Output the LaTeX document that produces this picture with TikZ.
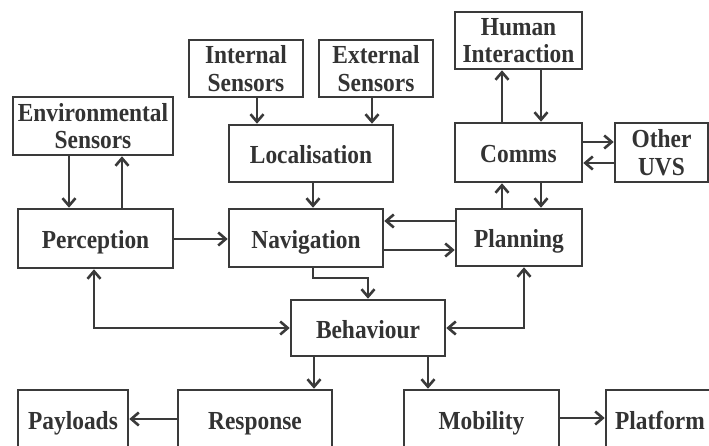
\documentclass[tikz,border=0pt]{standalone}
\usepackage{fontspec}
\setmainfont{Liberation Serif}[FakeStretch=0.9]
\usetikzlibrary{arrows.meta}
\definecolor{ink}{HTML}{3A3A3A}
\definecolor{txt}{HTML}{333333}
\tikzset{
  box/.style={draw=ink, line width=2.6pt, inner sep=0pt, align=center,
    text=txt, font=\bfseries\fontsize{26}{27.5}\selectfont},
  one/.style={text height=26pt, text depth=5pt},
  link/.style={draw=ink, line width=2.6pt},
  arr/.style={link, -{Straight Barb[length=7.5pt,width=13pt]}},
  darr/.style={link, {Straight Barb[length=7.5pt,width=13pt]}-{Straight Barb[length=7.5pt,width=13pt]}}
}
\begin{document}
\begin{tikzpicture}[x=1pt,y=-1pt]
\useasboundingbox (0,0) rectangle (709,446);
\fill[white] (0,0) rectangle (709,446);
\clip (0,0) rectangle (709,446);
% boxes
\node[box, minimum width=160pt, minimum height=58pt] (env) at (93,126) {Environmental\\Sensors};
\node[box, minimum width=114pt, minimum height=57pt] (int) at (246,68.5) {Internal\\Sensors};
\node[box, minimum width=114pt, minimum height=57pt] (ext) at (376,68.5) {External\\Sensors};
\node[box, minimum width=127pt, minimum height=57pt] (hum) at (518.5,40.5) {Human\\Interaction};
\node[box, one, minimum width=164pt, minimum height=57pt] (loc) at (311,153.5) {Localisation};
\node[box, one, minimum width=127pt, minimum height=59pt] (comms) at (518.5,152.5) {Comms};
\node[box, minimum width=93pt, minimum height=59pt] (other) at (661.5,152.5) {Other\\UVS};
\node[box, one, minimum width=155pt, minimum height=59pt] (perc) at (95.5,238.5) {Perception};
\node[box, one, minimum width=154pt, minimum height=58pt] (nav) at (306,238) {Navigation};
\node[box, one, minimum width=126pt, minimum height=57pt] (plan) at (519,237.5) {Planning};
\node[box, one, minimum width=154pt, minimum height=56pt] (beh) at (368,328) {Behaviour};
\node[box, one, minimum width=110pt, minimum height=58pt] (pay) at (73,419) {Payloads};
\node[box, one, minimum width=154pt, minimum height=58pt] (resp) at (255,419) {Response};
\node[box, one, minimum width=155pt, minimum height=58pt] (mob) at (481.5,419) {Mobility};
\node[box, one, minimum width=108pt, minimum height=58pt] (plat) at (660,419) {Platform};
% connectors
\draw[arr] (env.south -| 69,0) -- (perc.north -| 69,0);
\draw[arr] (perc.north -| 122,0) -- (env.south -| 122,0);
\draw[arr] (int.south -| 257,0) -- (loc.north -| 257,0);
\draw[arr] (ext.south -| 372,0) -- (loc.north -| 372,0);
\draw[arr] (loc.south -| 313,0) -- (nav.north -| 313,0);
\draw[arr] (comms.north -| 502,0) -- (hum.south -| 502,0);
\draw[arr] (hum.south -| 541,0) -- (comms.north -| 541,0);
\draw[arr] (comms.east |- 0,142) -- (other.west |- 0,142);
\draw[arr] (other.west |- 0,163) -- (comms.east |- 0,163);
\draw[arr] (plan.north -| 502,0) -- (comms.south -| 502,0);
\draw[arr] (comms.south -| 541,0) -- (plan.north -| 541,0);
\draw[arr] (perc.east |- 0,239) -- (nav.west |- 0,239);
\draw[arr] (plan.west |- 0,221) -- (nav.east |- 0,221);
\draw[arr] (nav.east |- 0,250) -- (plan.west |- 0,250);
\coordinate (nb1) at (313,278);
\coordinate (nb2) at (368,278);
\draw[arr] (nav.south -| nb1) -- (nb1) -- (nb2) -- (beh.north -| nb2);
\coordinate (pb) at (94,328);
\draw[darr] (perc.south -| pb) -- (pb) -- (beh.west |- pb);
\coordinate (lb) at (524,328);
\draw[darr] (plan.south -| lb) -- (lb) -- (beh.east |- lb);
\draw[arr] (beh.south -| 314,0) -- (resp.north -| 314,0);
\draw[arr] (beh.south -| 428,0) -- (mob.north -| 428,0);
\draw[arr] (resp.west |- 0,419) -- (pay.east |- 0,419);
\draw[arr] (mob.east |- 0,418) -- (plat.west |- 0,418);
\end{tikzpicture}
\end{document}
